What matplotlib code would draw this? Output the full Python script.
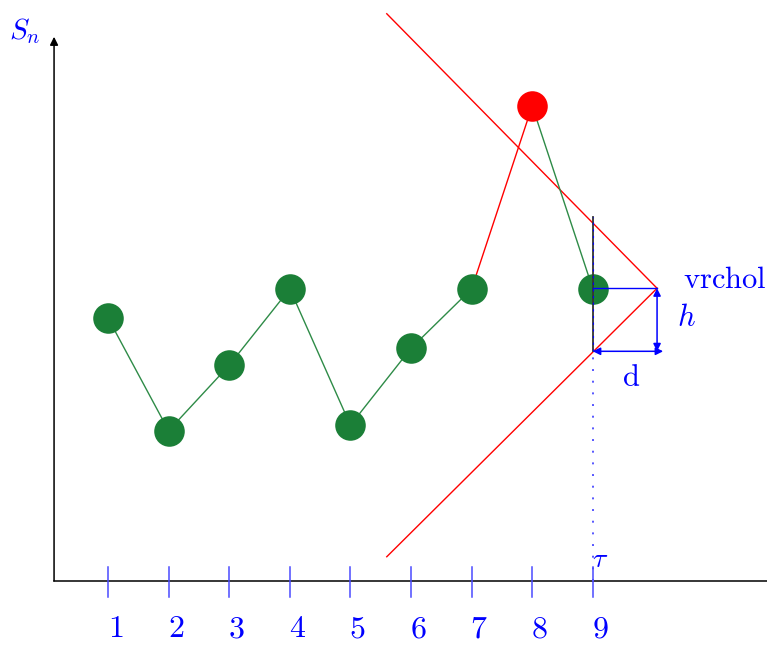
import numpy as np
import matplotlib.pyplot as plt

plt.rcParams['mathtext.fontset'] = 'cm'

# průběh S_n
n = [1, 2, 3, 4, 5, 6, 7, 8, 9]
s = [4.34, 2.48, 3.56, 4.82, 2.57, 3.84, 4.82, 7.84, 4.82]
tick_labels = ['1', '2', '3', '4', '5', '6', '7', '8', '9']

# vrchol a jeho okolí
vrchol = (10.06, 4.83)
d = 1.06
h = 1.04
upper_line_x = [5.60, 10.06]
upper_line_y = [9.36, 4.83]
lower_line_x = [5.60, 10.06]
lower_line_y = [0.40, 4.83]
tau = 9

green = '#1b7f37'
blue = '#0000ff'

fig = plt.figure(figsize=(7.67, 6.46), dpi=100)
ax = fig.add_axes([0, 0, 1, 1])
ax.set_xlim(-0.782, 11.874)
ax.set_ylim(-1.073, 9.587)
ax.axis('off')

# osy
ax.plot([0.11, 11.874], [0, 0], color='black', lw=1.1, zorder=2)
ax.annotate('', xy=(0.11, 8.98), xytext=(0.11, 0),
            arrowprops=dict(arrowstyle='-|>', color='black', lw=1.1,
                            mutation_scale=12, shrinkA=0, shrinkB=0))
ax.text(-0.38, 9.07, r'$S_n$', color=blue, fontsize=21, ha='center', va='center',
        clip_on=False)

# dílky na ose x
for xi, lab in zip(n, tick_labels):
    ax.plot([xi, xi], [-0.26, 0.23], color='#4a4aff', lw=1.1, zorder=3)
    ax.text(xi + 0.12, -1.04, '$' + lab + '$', color=blue, fontsize=23,
            ha='center', va='bottom', clip_on=False)

# červené přímky ke vrcholu
ax.plot(upper_line_x, upper_line_y, color='red', lw=1.0, zorder=2)
ax.plot(lower_line_x, lower_line_y, color='red', lw=1.0, zorder=2)

# spojnice bodů
ax.plot(n[:7], s[:7], color='#2e8b47', lw=1.0, zorder=3)
ax.plot(n[6:8], s[6:8], color='red', lw=1.0, zorder=3)
ax.plot(n[7:9], s[7:9], color='#2e8b47', lw=1.0, zorder=3)

# body
ax.plot(n[:7], s[:7], 'o', color=green, ms=22, mew=0, zorder=4)
ax.plot(n[7], s[7], 'o', color='red', ms=22, mew=0, zorder=4)
ax.plot(n[8], s[8], 'o', color=green, ms=22, mew=0, zorder=4)

# svislice v bodě tau
y_low = vrchol[1] - h
ax.plot([tau, tau], [y_low, 6.01], color='#333333', lw=1.3, zorder=5)
ax.plot([tau, tau], [y_low, 6.01], color=blue, lw=0.8, ls=(0, (2, 4)), zorder=6)
ax.plot([tau, tau], [0, y_low], color='#5555ff', lw=1.4, ls=(0, (1, 5)), zorder=2)
ax.text(tau + 0.12, 0.37, r'$\tau$', color=blue, fontsize=20, ha='center', va='center')

# obdélník d x h
ax.plot([tau, vrchol[0]], [vrchol[1], vrchol[1]], color=blue, lw=1.0, zorder=6)
ax.annotate('', xy=(vrchol[0], y_low), xytext=(vrchol[0], vrchol[1]),
            arrowprops=dict(arrowstyle='<|-|>', color=blue, lw=1.1,
                            mutation_scale=11, shrinkA=0, shrinkB=0), zorder=6)
ax.annotate('', xy=(vrchol[0] + 0.1, y_low), xytext=(tau, y_low),
            arrowprops=dict(arrowstyle='<|-|>', color=blue, lw=1.1,
                            mutation_scale=11, shrinkA=0, shrinkB=0), zorder=6)

ax.text(10.48, 4.97, r'$\mathrm{vrchol}$', color=blue, fontsize=22, ha='left', va='center')
ax.text(10.39, 4.34, r'$h$', color=blue, fontsize=22, ha='left', va='center')
ax.text(9.63, 3.35, r'$\mathrm{d}$', color=blue, fontsize=22, ha='center', va='center')

fig.savefig('out.png', dpi=100)
